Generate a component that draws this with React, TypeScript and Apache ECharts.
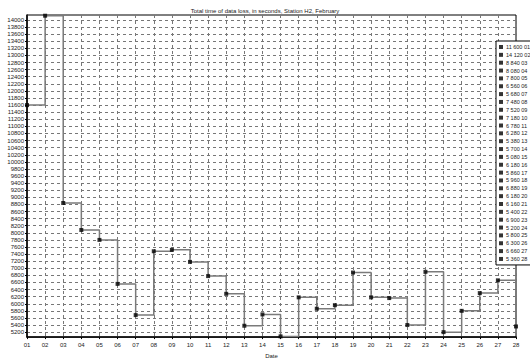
import React, { useEffect, useRef } from "react";
import * as echarts from "echarts";

const titleText = "Total time of data loss, in seconds, Station H2, February";
const xAxisName = "Date";

const dates = [
  "01", "02", "03", "04", "05", "06", "07", "08", "09", "10",
  "11", "12", "13", "14", "15", "16", "17", "18", "19", "20",
  "21", "22", "23", "24", "25", "26", "27", "28",
];

const lossSeconds = [
  11600, 14120, 8840, 8080, 7800, 6560, 5680, 7480, 7520, 7180,
  6780, 6280, 5380, 5700, 5080, 6180, 5860, 5960, 6880, 6180,
  6160, 5400, 6900, 5200, 5800, 6300, 6660, 5360,
];

const yTicks = Array.from({ length: 45 }, (_, i) => 5200 + i * 200);

const FONT = "Liberation Sans, Arial, sans-serif";

function fmt(v: number): string {
  const s = String(v);
  return s.length > 3 ? s.slice(0, s.length - 3) + " " + s.slice(-3) : s;
}

const legendNames = dates.map((d, i) => `${fmt(lossSeconds[i])} ${d}`);

export default function App() {
  const ref = useRef<HTMLDivElement>(null);
  useEffect(() => {
    if (!ref.current) return;
    const chart = echarts.init(ref.current, undefined, { renderer: "svg" });
    const pointSeries = dates.map((d, i) => ({
      type: "scatter",
      name: legendNames[i],
      data: [[d, lossSeconds[i]]],
      symbol: "rect",
      symbolSize: 4,
      itemStyle: { color: "#000" },
      z: 5,
    }));
    chart.setOption({
      animation: false,
      backgroundColor: "#fff",
      title: {
        text: titleText,
        left: "center",
        top: 3,
        textStyle: { fontSize: 6, fontWeight: "normal", color: "#222", fontFamily: FONT },
      },
      legend: {
        data: legendNames,
        orient: "vertical",
        left: 496,
        top: 41,
        padding: [3, 1, 3, 3],
        itemGap: 1.85,
        itemWidth: 4,
        itemHeight: 4,
        icon: "rect",
        selectedMode: false,
        borderColor: "#000",
        borderWidth: 1,
        backgroundColor: "#fff",
        textStyle: { fontSize: 5.5, color: "#222", fontFamily: FONT, lineHeight: 6, padding: [0, 0, 0, -2] },
      },
      grid: {
        left: 27,
        right: 14,
        top: 15,
        bottom: 16,
        show: true,
        borderColor: "#000",
        borderWidth: 1,
        containLabel: false,
      },
      xAxis: {
        type: "category",
        data: dates,
        boundaryGap: false,
        name: xAxisName,
        nameLocation: "middle",
        nameGap: 12,
        nameTextStyle: { fontSize: 6, color: "#222", fontFamily: FONT },
        axisLine: { lineStyle: { color: "#000", width: 1.5 } },
        axisTick: { show: true, length: 2, lineStyle: { color: "#000" } },
        axisLabel: { fontSize: 6, color: "#222", fontFamily: FONT, margin: 5, interval: 0 },
        splitLine: { show: true, lineStyle: { type: [3, 3], color: "#777", width: 1 } },
      },
      yAxis: {
        type: "value",
        min: 5060,
        max: 14140,
        axisLine: { show: true, lineStyle: { color: "#000", width: 1.5 } },
        axisTick: { show: true, length: 2, customValues: yTicks, lineStyle: { color: "#000" } },
        axisLabel: {
          fontSize: 6,
          color: "#222",
          fontFamily: FONT,
          margin: 3,
          customValues: yTicks,
          formatter: (v: number) => String(v),
        },
        splitLine: { show: true, lineStyle: { type: [3, 3], color: "#777", width: 1 } },
      },
      series: [
        {
          type: "line",
          name: "loss",
          data: lossSeconds,
          step: "end",
          symbol: "none",
          lineStyle: { color: "#7a7a7a", width: 1.5 },
          z: 3,
        },
        ...pointSeries,
      ],
    });
    return () => chart.dispose();
  }, []);
  return (
    <div
      ref={ref}
      style={{ position: "fixed", left: 0, top: 0, width: 530, height: 364 }}
    />
  );
}
